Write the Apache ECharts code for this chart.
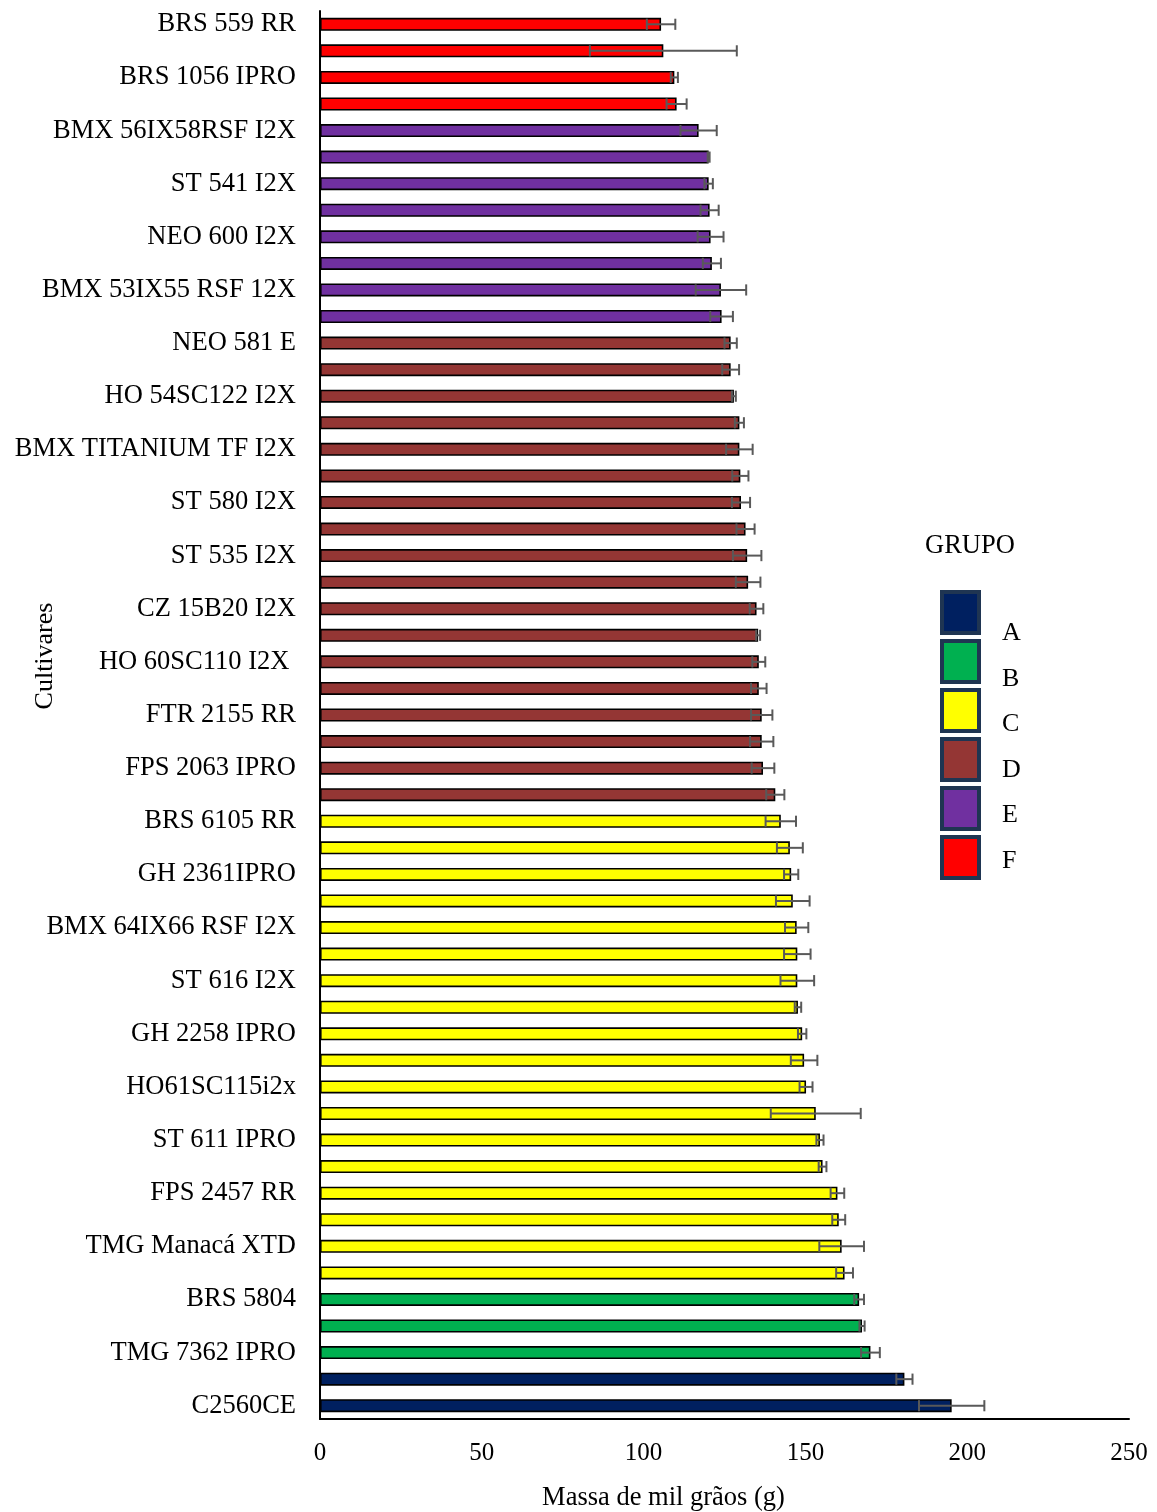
<!DOCTYPE html>
<html>
<head>
<meta charset="utf-8">
<script src="https://cdn.jsdelivr.net/npm/echarts@6/dist/echarts.min.js"></script>
<style>
  html, body { margin: 0; padding: 0; background: #fff; }
  #chart { width: 1157px; height: 1512px; }
</style>
</head>
<body>
<div id="chart"></div>
<script>
// cultivares, de cima para baixo (só metade tem rótulo no gráfico)
const cultivares = [
  'BRS 559 RR', '', 'BRS 1056 IPRO', '', 'BMX 56IX58RSF I2X', '',
  'ST 541 I2X', '', 'NEO 600 I2X', '', 'BMX 53IX55 RSF 12X', '',
  'NEO 581 E', '', 'HO 54SC122 I2X', '', 'BMX TITANIUM TF I2X', '',
  'ST 580 I2X', '', 'ST 535 I2X', '', 'CZ 15B20 I2X', '',
  'HO 60SC110 I2X ', '', 'FTR 2155 RR', '', 'FPS 2063 IPRO', '',
  'BRS 6105 RR', '', 'GH 2361IPRO', '', 'BMX 64IX66 RSF I2X', '',
  'ST 616 I2X', '', 'GH 2258 IPRO', '', 'HO61SC115i2x', '',
  'ST 611 IPRO', '', 'FPS 2457 RR', '', 'TMG Manacá XTD', '',
  'BRS 5804', '', 'TMG 7362 IPRO', '', 'C2560CE'
];

const massa = [
  105.4, 106.1, 109.5, 110.2, 117.0, 120.1, 120.1, 120.4, 120.7, 121.1,
  123.9, 124.1, 126.9, 126.9, 127.9, 129.6, 129.6, 129.9, 130.1, 131.5,
  132.0, 132.3, 134.9, 135.4, 135.6, 135.6, 136.5, 136.5, 136.9, 140.7,
  142.4, 145.2, 145.6, 146.1, 147.3, 147.5, 147.5, 147.7, 149.0, 149.6,
  150.2, 153.2, 154.5, 155.3, 159.9, 160.3, 161.2, 162.1, 166.6, 167.5,
  170.1, 180.6, 195.2
];

const erro = [
  4.4, 22.7, 1.1, 3.1, 5.6, 0.3, 1.3, 2.8, 4.0, 2.8,
  7.8, 3.5, 1.9, 2.6, 0.6, 1.4, 4.1, 2.5, 2.8, 2.8,
  4.4, 3.8, 2.1, 0.6, 2.0, 2.4, 3.3, 3.6, 3.5, 2.8,
  4.7, 4.0, 2.2, 5.2, 3.6, 4.1, 5.2, 1.0, 1.3, 4.1,
  2.0, 13.9, 1.1, 1.2, 2.1, 2.0, 6.9, 2.6, 1.5, 0.8,
  2.9, 2.5, 10.1
];

const grupo = [].concat(
  Array(4).fill('F'), Array(8).fill('E'), Array(18).fill('D'),
  Array(18).fill('C'), Array(3).fill('B'), Array(2).fill('A')
);

const grupos = ['A', 'B', 'C', 'D', 'E', 'F'];
const cores = {
  A: '#002060', B: '#00B050', C: '#FFFF00',
  D: '#943634', E: '#7030A0', F: '#FF0000'
};
const xTicks = { min: 0, max: 250, interval: 50 };

const fonte = 'Liberation Serif';

const barSeries = grupos.map(g => ({
  name: g,
  type: 'bar',
  barWidth: 13,
  barGap: '-100%',
  itemStyle: { color: cores[g], borderColor: '#000', borderWidth: 1.6 },
  data: massa.map((v, i) => grupo[i] === g ? v : null)
}));

const erroSeries = {
  type: 'custom',
  name: 'erro',
  encode: { y: 0, x: [1, 2] },
  data: massa.map((v, i) => [i, v - erro[i], v + erro[i]]),
  z: 10,
  renderItem: function (params, api) {
    const i = api.value(0);
    const lo = api.coord([api.value(1), i]);
    const hi = api.coord([api.value(2), i]);
    const h = api.size([0, 1])[1] * 0.21;
    const style = { stroke: '#595959', lineWidth: 2 };
    return {
      type: 'group',
      children: [
        { type: 'line', shape: { x1: lo[0], y1: lo[1], x2: hi[0], y2: hi[1] }, style },
        { type: 'line', shape: { x1: lo[0], y1: lo[1] - h, x2: lo[0], y2: lo[1] + h }, style },
        { type: 'line', shape: { x1: hi[0], y1: hi[1] - h, x2: hi[0], y2: hi[1] + h }, style }
      ]
    };
  }
};

const chart = echarts.init(document.getElementById('chart'));
chart.setOption({
  animation: false,
  textStyle: { fontFamily: fonte, color: '#000' },
  title: {
    text: 'GRUPO',
    left: 925,
    top: 533,
    padding: 0,
    textStyle: { fontFamily: fonte, fontSize: 26.5, fontWeight: 'normal', color: '#000' }
  },
  legend: [
    {
      data: grupos,
      orient: 'vertical',
      icon: 'rect',
      left: 940,
      top: 590,
      itemWidth: 37,
      itemHeight: 41,
      itemGap: 4,
      padding: 0,
      formatter: () => '',
      itemStyle: { borderColor: '#1F3552', borderWidth: 4 }
    },
    {
      data: grupos,
      orient: 'vertical',
      left: 997,
      top: 613,
      itemWidth: 0,
      itemHeight: 41,
      itemGap: 4.5,
      padding: 0,
      itemStyle: { borderWidth: 0, opacity: 0 },
      textStyle: { fontFamily: fonte, fontSize: 26, color: '#000' }
    }
  ],
  grid: { left: 320, right: 28, top: 11, bottom: 93, outerBoundsMode: 'none' },
  xAxis: {
    type: 'value',
    min: xTicks.min,
    max: xTicks.max,
    interval: xTicks.interval,
    name: 'Massa de mil grãos (g)',
    nameLocation: 'middle',
    nameGap: 66,
    nameMoveOverlap: false,
    nameTextStyle: { fontFamily: fonte, fontSize: 26.5, color: '#000', padding: [0, 122, 0, 0] },
    axisLine: { show: true, lineStyle: { color: '#000', width: 2 } },
    axisTick: { show: false },
    splitLine: { show: false },
    axisLabel: { fontFamily: fonte, fontSize: 25, color: '#000', margin: 22 }
  },
  yAxis: {
    type: 'category',
    inverse: true,
    data: cultivares,
    name: 'Cultivares',
    nameLocation: 'middle',
    nameGap: 262,
    nameMoveOverlap: false,
    nameTextStyle: { fontFamily: fonte, fontSize: 26, color: '#000', padding: [0, 0, 0, 118] },
    axisLine: { show: true, lineStyle: { color: '#000', width: 2 } },
    axisTick: { show: false },
    axisLabel: { interval: 0, fontFamily: fonte, fontSize: 26.5, color: '#000', margin: 24 }
  },
  series: barSeries.concat([erroSeries])
});
</script>
</body>
</html>
